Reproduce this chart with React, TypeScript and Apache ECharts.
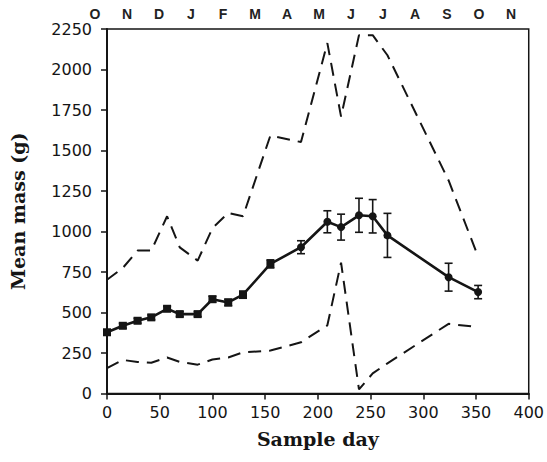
import React, { useEffect, useRef } from "react";
import * as echarts from "echarts";

// Sample days (x) and mass statistics (g)
const sampleDays = [0, 15, 29, 42, 57, 69, 86, 100, 115, 129, 155, 184, 209, 222, 239, 252, 266, 324, 352];
const meanMass = [378, 418, 449, 470, 523, 490, 490, 582, 562, 610, 800, 903, 1060, 1027, 1100, 1094, 976, 718, 626];
const meanError = [15, 15, 15, 15, 15, 15, 15, 18, 20, 22, 25, 40, 68, 80, 105, 103, 136, 86, 41];
const maxMass = [702, 775, 882, 882, 1094, 902, 820, 1020, 1115, 1094, 1593, 1552, 2163, 1709, 2212, 2212, 2088, 1315, 845];
const minMass = [156, 207, 195, 190, 222, 195, 178, 210, 222, 254, 265, 316, 421, 808, 25, 124, 186, 430, 410];
const months = ["O", "N", "D", "J", "F", "M", "A", "M", "J", "J", "A", "S", "O", "N"];
const squareMarkerUntilDay = 155;

const INK = "#151515";

export default function App() {
  const ref = useRef<HTMLDivElement>(null);
  useEffect(() => {
    if (!ref.current) return;
    const chart = echarts.init(ref.current, undefined, { renderer: "svg" });
    const meanData = sampleDays.map((d, i) => ({
      value: [d, meanMass[i]],
      symbol: d <= squareMarkerUntilDay ? "rect" : "circle",
    }));
    const errData = sampleDays.map((d, i) => [d, meanMass[i] - meanError[i], meanMass[i] + meanError[i]]);
    const maxData = sampleDays.map((d, i) => [d, maxMass[i]]);
    const minData = sampleDays.map((d, i) => [d, minMass[i]]);
    const dashed = {
      color: INK,
      width: 2,
      type: [13, 8] as any,
    };
    const option: any = {
      animation: false,
      backgroundColor: "#fff",
      grid: [
        { left: 106.7, right: 17, top: 29, bottom: 68.5, show: true, borderColor: INK, borderWidth: 1.5 },
        { left: 79, width: 448, top: 29, height: 10 },
      ],
      xAxis: [
        {
          type: "value",
          gridIndex: 0,
          min: 0,
          max: 400,
          interval: 50,
          splitLine: { show: false },
          axisLine: { lineStyle: { color: INK, width: 2 } },
          axisTick: { length: 6, lineStyle: { color: INK, width: 1.5 } },
          axisLabel: { fontFamily: "DejaVu Sans", fontSize: 16, color: INK, margin: 11, formatter: (v: number) => String(v) },
          name: "Sample day",
          nameLocation: "middle",
          nameGap: 36,
          nameTextStyle: { fontFamily: "DejaVu Serif", fontWeight: "bold", fontSize: 19, color: INK },
        },
        {
          type: "category",
          gridIndex: 1,
          position: "top",
          data: months,
          axisLine: { show: false },
          axisTick: { show: false },
          axisLabel: { fontFamily: "Liberation Sans", fontWeight: "bold", fontSize: 14, color: "#222", margin: 8 },
        },
      ],
      yAxis: [
        {
          type: "value",
          gridIndex: 0,
          min: 0,
          max: 2250,
          interval: 250,
          splitLine: { show: false },
          axisLine: { lineStyle: { color: INK, width: 2 } },
          axisTick: { length: 6, lineStyle: { color: INK, width: 1.5 } },
          axisLabel: { fontFamily: "DejaVu Sans", fontSize: 16, color: INK, margin: 15, formatter: (v: number) => String(v) },
          name: "Mean mass (g)",
          nameLocation: "middle",
          nameGap: 80,
          nameRotate: 90,
          nameTextStyle: { fontFamily: "DejaVu Serif", fontWeight: "bold", fontSize: 19, color: INK },
        },
        { type: "value", gridIndex: 1, show: false },
      ],
      series: [
        {
          type: "line",
          data: maxData,
          symbol: "none",
          lineStyle: dashed,
          z: 2,
        },
        {
          type: "line",
          data: minData,
          symbol: "none",
          lineStyle: dashed,
          z: 2,
        },
        {
          type: "custom",
          data: errData,
          encode: { x: 0, y: [1, 2] },
          z: 3,
          renderItem: (params: any, api: any) => {
            const x = api.value(0);
            const lo = api.coord([x, api.value(1)]);
            const hi = api.coord([x, api.value(2)]);
            const w = 4;
            const style = { stroke: INK, lineWidth: 1.6 };
            return {
              type: "group",
              children: [
                { type: "line", shape: { x1: lo[0], y1: lo[1], x2: hi[0], y2: hi[1] }, style },
                { type: "line", shape: { x1: lo[0] - w, y1: lo[1], x2: lo[0] + w, y2: lo[1] }, style },
                { type: "line", shape: { x1: hi[0] - w, y1: hi[1], x2: hi[0] + w, y2: hi[1] }, style },
              ],
            };
          },
        },
        {
          type: "line",
          data: meanData,
          symbolSize: 8,
          itemStyle: { color: INK },
          lineStyle: { color: INK, width: 2.6 },
          z: 4,
        },
      ],
    };
    chart.setOption(option);
    return () => chart.dispose();
  }, []);
  return (
    <div
      ref={ref}
      style={{ position: "fixed", left: 0, top: 0, width: 547, height: 462, background: "#fff" }}
    />
  );
}
